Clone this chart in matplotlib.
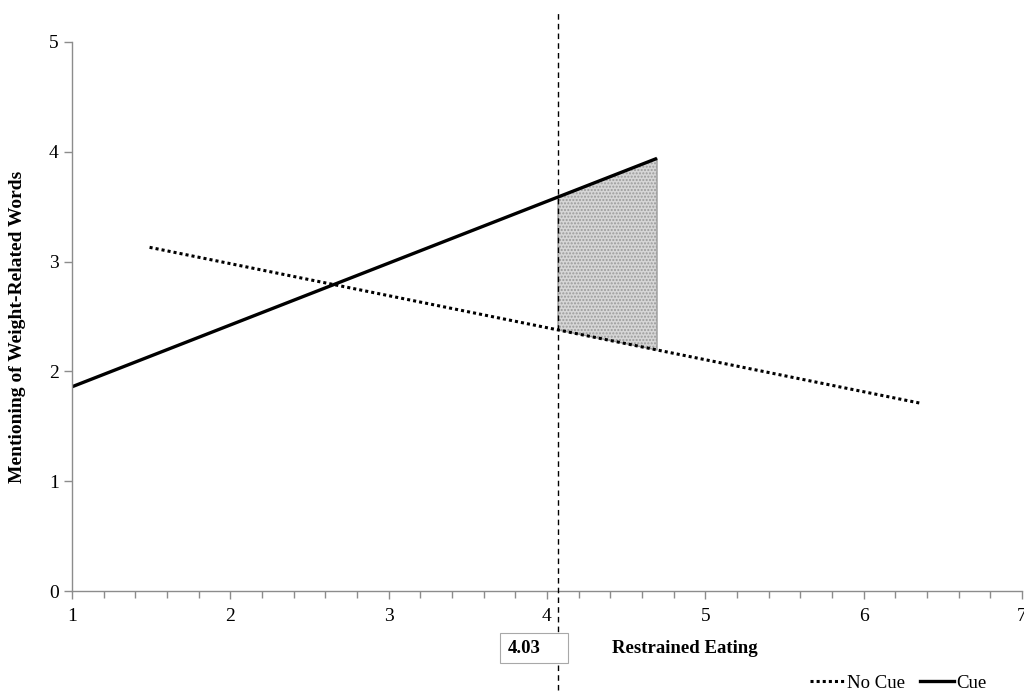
import numpy as np
import matplotlib.pyplot as plt
from matplotlib.ticker import MultipleLocator
from matplotlib.lines import Line2D
from matplotlib.patches import Rectangle

plt.rcParams['font.family'] = ['Liberation Serif', 'DejaVu Serif']
plt.rcParams['hatch.color'] = '#c4c4c4'

# simple slopes
cue_x = [1.0, 4.695]
cue_y = [1.86, 3.94]
nocue_x = [1.49, 6.36]
nocue_y = [3.13, 1.71]
jn_point = 4.07          # where the dashed line sits
jn_label = "4.03"
region_x = [4.07, 4.695]  # shaded region of significance

fig = plt.figure(figsize=(10.24, 6.95), dpi=100)
ax = fig.add_axes([0.0703, 0.1496, 0.9277, 0.79])

ax.plot(cue_x, cue_y, color='black', lw=2.4, solid_capstyle='butt')
ax.plot(nocue_x, nocue_y, color='black', lw=2.2, linestyle=(0, (1, 1)))

# shade between the two lines
xs = np.array(region_x)
top = np.interp(xs, cue_x, cue_y)
bot = np.interp(xs, nocue_x, nocue_y)
ax.fill_between(xs, bot, top, facecolor='#d6d6d6', edgecolor='#9a9a9a',
                hatch='.....', lw=1.0)

ax.axvline(jn_point, ymin=-0.18, ymax=1.058, color='black', lw=1.0,
           linestyle=(0, (4, 3)), clip_on=False, zorder=5)

ax.set_xlim(1, 7)
ax.set_ylim(0, 5)
ax.xaxis.set_major_locator(MultipleLocator(1))
ax.xaxis.set_minor_locator(MultipleLocator(0.2))
ax.yaxis.set_major_locator(MultipleLocator(1))
for s in ['top', 'right']:
    ax.spines[s].set_visible(False)
for s in ['left', 'bottom']:
    ax.spines[s].set_color('#8c8c8c')
    ax.spines[s].set_linewidth(1.0)
ax.tick_params(axis='both', which='both', direction='out', color='#8c8c8c',
               labelsize=14, width=1.0)
ax.tick_params(axis='both', which='major', length=6)
ax.tick_params(axis='x', which='minor', length=5)
ax.tick_params(axis='x', pad=6)

fig.text(18 / 1024, 0.53, "Mentioning of Weight-Related Words", fontsize=14,
         fontweight='bold', rotation=90, ha='center', va='center')

# box with the Johnson-Neyman value
fig.patches.append(Rectangle((500 / 1024, 32 / 695), 68 / 1024, 30 / 695,
                             transform=fig.transFigure, fc='white',
                             ec='#a8a8a8', lw=0.8, zorder=1))
fig.text(508 / 1024, 0.067, jn_label, fontsize=13.5, fontweight='bold',
         ha='left', va='center')
fig.text(0.598, 0.067, "Restrained Eating", fontsize=13.5, fontweight='bold',
         ha='left', va='center')

handles = [Line2D([], [], color='black', lw=2.2, linestyle=(0, (1, 1))),
           Line2D([], [], color='black', lw=2.4)]
fig.legend(handles, ["No Cue", "Cue"], loc='lower right',
           bbox_to_anchor=(0.98, -0.02), ncol=2, frameon=False,
           fontsize=13.5, handlelength=1.8, handletextpad=0.15,
           columnspacing=0.8)

fig.savefig('out.png', dpi=100)
